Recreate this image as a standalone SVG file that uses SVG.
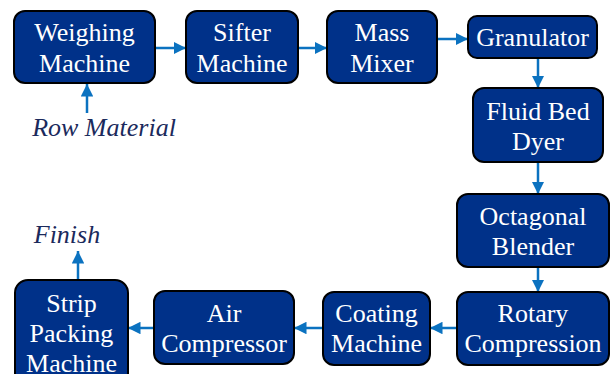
<svg xmlns="http://www.w3.org/2000/svg" width="611" height="374" viewBox="0 0 611 374">
<style>
.box{fill:#003189;stroke:#000;stroke-width:2}
.c{stroke:#0b72c0;stroke-width:2.5;fill:none;marker-end:url(#ah)}
</style>
<defs>
<marker id="ah" viewBox="0 0 10 10" refX="10" refY="5" markerWidth="5" markerHeight="5" orient="auto" markerUnits="strokeWidth">
<path d="M0,0 L10,5 L0,10 z" fill="#0b72c0"/>
</marker>
</defs>
<rect width="611" height="374" fill="#fff"/>
<g id="connectors">
<line class="c" x1="155" y1="48" x2="186" y2="48"/>
<line class="c" x1="298" y1="48" x2="327" y2="48"/>
<line class="c" x1="437" y1="39" x2="468" y2="39"/>
<line class="c" x1="538" y1="59" x2="538" y2="88"/>
<line class="c" x1="538" y1="163" x2="538" y2="194"/>
<line class="c" x1="538" y1="268" x2="538" y2="292"/>
<line class="c" x1="457" y1="328" x2="430" y2="328"/>
<line class="c" x1="323" y1="328" x2="294" y2="328"/>
<line class="c" x1="154" y1="328" x2="128" y2="328"/>
<line class="c" x1="87" y1="113" x2="87" y2="84"/>
<line class="c" x1="78" y1="280" x2="78" y2="251"/>
</g>
<g id="weighing"><rect class="box" x="14" y="11" width="141" height="72" rx="11"/><text font-family="Liberation Serif" font-size="26" fill="#fff" text-anchor="middle" x="84.5" y="41">Weighing</text><text font-family="Liberation Serif" font-size="26" fill="#fff" text-anchor="middle" x="84.5" y="72">Machine</text></g>
<g id="sifter"><rect class="box" x="186" y="11" width="112" height="72" rx="11"/><text font-family="Liberation Serif" font-size="26" fill="#fff" text-anchor="middle" x="242" y="41">Sifter</text><text font-family="Liberation Serif" font-size="26" fill="#fff" text-anchor="middle" x="242" y="72">Machine</text></g>
<g id="mass"><rect class="box" x="327" y="11" width="110" height="72" rx="11"/><text font-family="Liberation Serif" font-size="26" fill="#fff" text-anchor="middle" x="382" y="41">Mass</text><text font-family="Liberation Serif" font-size="26" fill="#fff" text-anchor="middle" x="382" y="72">Mixer</text></g>
<g id="granulator"><rect class="box" x="468" y="16" width="129" height="42" rx="9"/><text font-family="Liberation Serif" font-size="26" fill="#fff" text-anchor="middle" x="532.5" y="46">Granulator</text></g>
<g id="fluid"><rect class="box" x="473" y="88" width="130" height="74" rx="11"/><text font-family="Liberation Serif" font-size="26" fill="#fff" text-anchor="middle" x="538" y="120">Fluid Bed</text><text font-family="Liberation Serif" font-size="26" fill="#fff" text-anchor="middle" x="538" y="150">Dyer</text></g>
<g id="octagonal"><rect class="box" x="457" y="194" width="152" height="73" rx="11"/><text font-family="Liberation Serif" font-size="26" fill="#fff" text-anchor="middle" x="533" y="225">Octagonal</text><text font-family="Liberation Serif" font-size="26" fill="#fff" text-anchor="middle" x="533" y="255">Blender</text></g>
<g id="rotary"><rect class="box" x="457" y="292" width="152" height="73" rx="11"/><text font-family="Liberation Serif" font-size="26" fill="#fff" text-anchor="middle" x="533" y="322">Rotary</text><text font-family="Liberation Serif" font-size="26" fill="#fff" text-anchor="middle" x="533" y="352">Compression</text></g>
<g id="coating"><rect class="box" x="323" y="292" width="107" height="73" rx="11"/><text font-family="Liberation Serif" font-size="26" fill="#fff" text-anchor="middle" x="376.5" y="322">Coating</text><text font-family="Liberation Serif" font-size="26" fill="#fff" text-anchor="middle" x="376.5" y="352">Machine</text></g>
<g id="air"><rect class="box" x="154" y="291" width="140" height="73" rx="11"/><text font-family="Liberation Serif" font-size="26" fill="#fff" text-anchor="middle" x="224" y="322">Air</text><text font-family="Liberation Serif" font-size="26" fill="#fff" text-anchor="middle" x="224" y="352">Compressor</text></g>
<g id="strip"><rect class="box" x="15" y="280" width="113" height="110" rx="13"/><text font-family="Liberation Serif" font-size="26" fill="#fff" text-anchor="middle" x="71.5" y="312">Strip</text><text font-family="Liberation Serif" font-size="26" fill="#fff" text-anchor="middle" x="71.5" y="342">Packing</text><text font-family="Liberation Serif" font-size="26" fill="#fff" text-anchor="middle" x="71.5" y="372">Machine</text></g>
<g id="labels"><text font-family="Liberation Serif" font-size="26" font-style="italic" fill="#1b2a5c" text-anchor="middle" x="104" y="136">Row Material</text><text font-family="Liberation Serif" font-size="26" font-style="italic" fill="#1b2a5c" text-anchor="middle" x="67" y="243">Finish</text></g>
</svg>
